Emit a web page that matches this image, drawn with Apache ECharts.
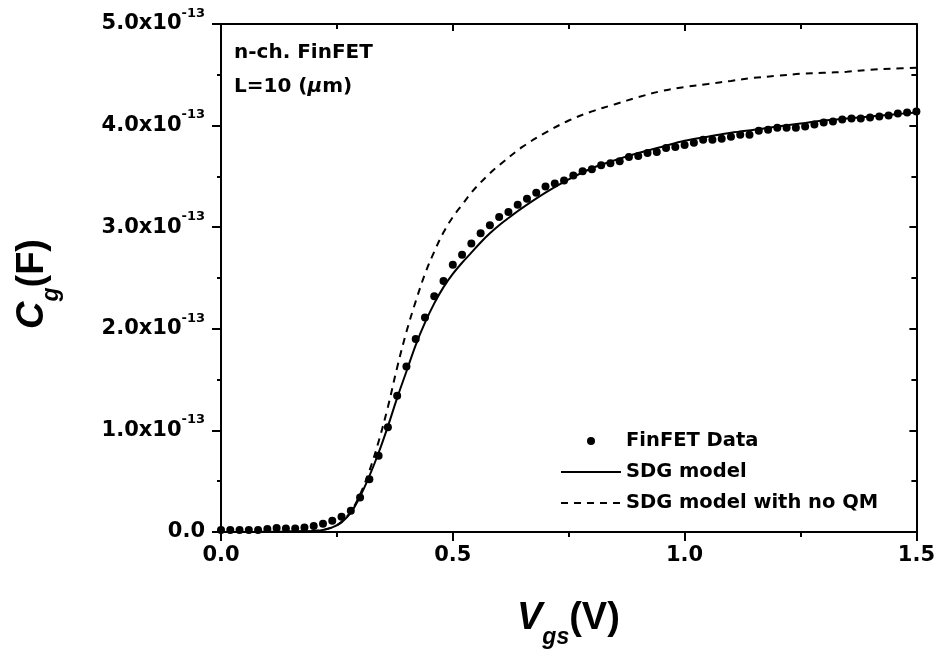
<!DOCTYPE html>
<html>
<head>
<meta charset="utf-8">
<script src="https://cdn.jsdelivr.net/npm/echarts@6/dist/echarts.min.js"></script>
<style>
html,body{margin:0;padding:0;background:#fff;}
#chart{width:938px;height:654px;}
</style>
</head>
<body>
<div id="chart"></div>
<script>
// Gate voltage (V) of the measured FinFET points
var dataVgs = [0.00,0.02,0.04,0.06,0.08,0.10,0.12,0.14,0.16,0.18,0.20,0.22,0.24,0.26,0.28,0.30,0.32,0.34,0.36,0.38,
  0.40,0.42,0.44,0.46,0.48,0.50,0.52,0.54,0.56,0.58,0.60,0.62,0.64,0.66,0.68,0.70,0.72,0.74,0.76,0.78,
  0.80,0.82,0.84,0.86,0.88,0.90,0.92,0.94,0.96,0.98,1.00,1.02,1.04,1.06,1.08,1.10,1.12,1.14,1.16,1.18,
  1.20,1.22,1.24,1.26,1.28,1.30,1.32,1.34,1.36,1.38,1.40,1.42,1.44,1.46,1.48,1.50];
// Measured Cg, in units of 1e-13 F
var dataCg = [0.02,0.02,0.02,0.02,0.02,0.03,0.04,0.035,0.035,0.045,0.06,0.08,0.11,0.15,0.21,0.34,0.52,0.75,1.03,1.34,
  1.63,1.90,2.11,2.32,2.47,2.63,2.73,2.84,2.94,3.02,3.10,3.15,3.22,3.28,3.34,3.40,3.43,3.46,3.51,3.55,
  3.57,3.61,3.63,3.65,3.69,3.70,3.73,3.74,3.78,3.79,3.81,3.83,3.86,3.86,3.87,3.89,3.91,3.91,3.95,3.96,
  3.98,3.98,3.98,3.99,4.01,4.03,4.04,4.06,4.07,4.07,4.08,4.09,4.10,4.12,4.13,4.14];
// SDG model (solid), Vgs in V and Cg in 1e-13 F
var sdgVgs = [0.00,0.10,0.20,0.22,0.24,0.26,0.28,0.30,0.32,0.34,0.36,0.38,0.40,0.42,0.44,0.46,0.48,0.50,0.52,0.54,
  0.56,0.58,0.60,0.62,0.65,0.70,0.75,0.80,0.85,0.90,0.95,1.00,1.05,1.10,1.15,1.20,1.25,1.30,1.35,1.40,1.45,1.50];
var sdgCg = [0.000,0.002,0.010,0.020,0.045,0.095,0.19,0.35,0.55,0.78,1.04,1.32,1.58,1.84,2.06,2.25,2.41,2.54,2.65,2.75,
  2.85,2.94,3.02,3.09,3.19,3.34,3.47,3.58,3.66,3.73,3.79,3.85,3.89,3.93,3.96,3.99,4.02,4.05,4.07,4.09,4.11,4.13];
// SDG model with no QM (dashed)
var noqmVgs = [0.00,0.20,0.24,0.26,0.28,0.30,0.32,0.34,0.36,0.38,0.40,0.42,0.44,0.46,0.48,0.50,0.52,0.54,0.56,0.58,
  0.60,0.65,0.70,0.75,0.80,0.85,0.90,0.95,1.00,1.05,1.10,1.15,1.20,1.25,1.30,1.35,1.40,1.45,1.50];
var noqmCg = [0.000,0.010,0.045,0.10,0.20,0.37,0.60,0.89,1.23,1.62,1.97,2.27,2.54,2.76,2.95,3.10,3.22,3.34,3.44,3.53,
  3.61,3.79,3.93,4.05,4.14,4.21,4.28,4.34,4.38,4.41,4.44,4.47,4.49,4.51,4.52,4.53,4.55,4.56,4.57];
// Tick labels
var xTickLabels = ['0.0','0.5','1.0','1.5'];
var yTickMantissa = ['0.0','1.0','2.0','3.0','4.0','5.0'];
var yTickExp = '-13';
var seriesNames = ['FinFET Data','SDG model','SDG model with no QM'];

function pairs(xs, ys){ return xs.map(function(x,i){ return [x, ys[i]]; }); }

var FONT = 'DejaVu Sans';
var TITLE_FONT = 'Liberation Sans';
var chart = echarts.init(document.getElementById('chart'), null, {renderer:'canvas'});

var axisLine = {show:true, onZero:false, lineStyle:{color:'#000', width:2}};
function mkX(pos, inside){
  return {
    type:'value', min:0, max:1.5, interval:0.5, position:pos, gridIndex:0,
    axisLine:axisLine,
    axisTick:{show:true, inside:inside, length:inside?7:9, lineStyle:{color:'#000', width:2}},
    minorTick:{show:true, splitNumber:2, length:5, lineStyle:{color:'#000', width:2}},
    splitLine:{show:false}, minorSplitLine:{show:false},
    axisLabel:{show:!inside, margin:13, color:'#000', fontFamily:FONT, fontWeight:'bold', fontSize:21,
      formatter:function(v){ return xTickLabels[Math.round(v/0.5)]; }}
  };
}
function mkY(pos, inside){
  return {
    type:'value', min:0, max:5, interval:1, position:pos, gridIndex:0,
    axisLine:axisLine,
    axisTick:{show:true, inside:inside, length:inside?7:9, lineStyle:{color:'#000', width:2}},
    minorTick:{show:true, splitNumber:2, length:inside?5:4, lineStyle:{color:'#000', width:2}},
    splitLine:{show:false}, minorSplitLine:{show:false},
    axisLabel:{show:!inside, margin:16, color:'#000',
      formatter:function(v){
        var i = Math.round(v);
        if (i === 0) return '{b|' + yTickMantissa[0] + '}';
        return '{b|' + yTickMantissa[i] + 'x10}{s|' + yTickExp + '}';
      },
      rich:{
        b:{fontFamily:FONT, fontWeight:'bold', fontSize:21, color:'#000', lineHeight:34, verticalAlign:'middle'},
        s:{fontFamily:FONT, fontWeight:'bold', fontSize:13, color:'#000', lineHeight:14, verticalAlign:'top'}
      }}
  };
}

var option = {
  backgroundColor:'#fff',
  animation:false,
  grid:{left:221, right:20, top:24, bottom:122, containLabel:false},
  xAxis:[mkX('bottom', false), mkX('top', true)],
  yAxis:[mkY('left', false), mkY('right', true)],
  legend:{
    orient:'vertical', left:555, top:426, itemWidth:60, itemHeight:8, itemGap:11,
    textStyle:{fontFamily:FONT, fontWeight:'bold', fontSize:19.5, color:'#000'},
    data:[
      {name:seriesNames[0], icon:'circle', itemStyle:{color:'#000', opacity:1}},
      {name:seriesNames[1], itemStyle:{opacity:0}},
      {name:seriesNames[2], itemStyle:{opacity:0}}
    ]
  },
  series:[
    {name:seriesNames[1], type:'line', data:pairs(sdgVgs, sdgCg), smooth:0.35, symbol:'none',
      lineStyle:{color:'#000', width:2, type:'solid'}, itemStyle:{color:'#000'}, z:2},
    {name:seriesNames[2], type:'line', data:pairs(noqmVgs, noqmCg), smooth:0.35, symbol:'none',
      lineStyle:{color:'#000', width:2, type:[7,6]}, itemStyle:{color:'#000'}, z:2},
    {name:seriesNames[0], type:'scatter', data:pairs(dataVgs, dataCg), symbol:'circle', symbolSize:8,
      itemStyle:{color:'#000', opacity:1}, z:3, clip:false}
  ],
  graphic:[
    {type:'text', left:234, top:43, z:10, style:{
      text:'{t|n-ch. FinFET}\n{t|L=10 (}{mu|\u03bc}{t|m)}',
      rich:{
        t:{fontFamily:FONT, fontWeight:'bold', fontSize:20, lineHeight:34, fill:'#000'},
        mu:{fontFamily:FONT, fontWeight:'bold', fontStyle:'italic', fontSize:20, lineHeight:34, fill:'#000'}
      }}},
    {type:'text', x:517, y:600, z:10, style:{
      text:'{v|V}{g|gs}{p|(V)}',
      rich:{
        v:{fontFamily:TITLE_FONT, fontWeight:'bold', fontStyle:'italic', fontSize:38, lineHeight:40, verticalAlign:'top', fill:'#000'},
        g:{fontFamily:TITLE_FONT, fontWeight:'bold', fontStyle:'italic', fontSize:23, lineHeight:24, padding:[26,0,0,0], verticalAlign:'top', fill:'#000'},
        p:{fontFamily:TITLE_FONT, fontWeight:'bold', fontSize:38, lineHeight:40, verticalAlign:'top', fill:'#000'}
      }}},
    {type:'text', x:14, y:329, rotation:Math.PI/2, z:10, style:{
      text:'{v|C}{g|g}{p|(F)}',
      rich:{
        v:{fontFamily:TITLE_FONT, fontWeight:'bold', fontStyle:'italic', fontSize:38, lineHeight:40, verticalAlign:'top', fill:'#000'},
        g:{fontFamily:TITLE_FONT, fontWeight:'bold', fontStyle:'italic', fontSize:23, lineHeight:24, padding:[26,0,0,0], verticalAlign:'top', fill:'#000'},
        p:{fontFamily:TITLE_FONT, fontWeight:'bold', fontSize:38, lineHeight:40, verticalAlign:'top', fill:'#000'}
      }}}
  ]
};
chart.setOption(option);
</script>
</body>
</html>
